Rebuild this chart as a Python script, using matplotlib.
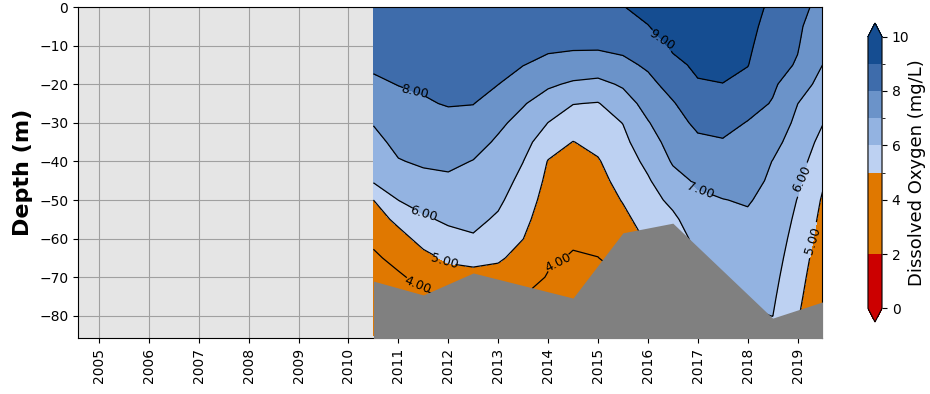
import matplotlib
matplotlib.use("Agg")
import matplotlib.pyplot as plt
import numpy as np
from matplotlib.colors import ListedColormap, BoundaryNorm

# Dissolved oxygen (mg/L) read off the section, one list per time step,
# values from the surface down in 5 m steps
years = [2010.5, 2011.0, 2011.5, 2012.0, 2012.5, 2013.0, 2013.5, 2014.0, 2014.5, 2015.0,
         2015.5, 2016.0, 2016.5, 2017.0, 2017.5, 2018.0, 2018.5, 2019.0, 2019.5]
depths = [0, -5, -10, -15, -20, -25, -30, -35, -40, -45, -50, -55, -60, -65, -70, -75, -80, -85]

do_by_year = [
    [8.60, 8.44, 8.27, 8.11, 7.87, 7.46, 7.05, 6.73, 6.42, 6.12, 5.00, 4.58, 4.16, 3.87, 3.65, 3.43, 3.22, 3.00],
    [8.50, 8.38, 8.26, 8.14, 8.02, 7.78, 7.51, 7.24, 6.95, 6.48, 6.01, 5.22, 4.68, 4.23, 3.89, 3.66, 3.43, 3.20],
    [8.50, 8.40, 8.29, 8.19, 8.08, 7.94, 7.67, 7.39, 7.12, 6.76, 6.33, 5.87, 5.30, 4.76, 4.24, 3.86, 3.58, 3.30],
    [8.50, 8.41, 8.31, 8.22, 8.13, 8.04, 7.81, 7.49, 7.18, 6.85, 6.50, 6.15, 5.70, 5.15, 4.63, 4.10, 3.73, 3.40],
    [8.50, 8.40, 8.31, 8.21, 8.12, 8.02, 7.71, 7.33, 6.97, 6.72, 6.47, 6.22, 5.91, 5.30, 4.67, 4.00, 3.70, 3.40],
    [8.60, 8.45, 8.30, 8.16, 8.01, 7.61, 7.18, 6.87, 6.63, 6.40, 6.16, 5.88, 5.51, 5.13, 4.65, 4.11, 3.73, 3.40],
    [8.70, 8.47, 8.25, 8.02, 7.56, 7.07, 6.70, 6.35, 6.01, 5.76, 5.51, 5.26, 5.01, 4.68, 4.34, 4.00, 3.70, 3.40],
    [8.80, 8.49, 8.18, 7.75, 7.14, 6.56, 5.99, 5.42, 4.96, 4.79, 4.62, 4.45, 4.29, 4.12, 3.95, 3.80, 3.65, 3.50],
    [8.80, 8.47, 8.14, 7.59, 6.87, 6.03, 5.48, 4.98, 4.80, 4.62, 4.44, 4.27, 4.09, 3.94, 3.83, 3.72, 3.61, 3.50],
    [8.85, 8.49, 8.14, 7.54, 6.75, 5.95, 5.59, 5.23, 4.93, 4.74, 4.55, 4.36, 4.17, 3.99, 3.86, 3.74, 3.62, 3.50],
    [8.98, 8.61, 8.24, 7.77, 7.12, 6.56, 6.02, 5.77, 5.53, 5.29, 5.05, 4.79, 4.53, 4.26, 4.00, 3.83, 3.67, 3.50],
    [9.20, 8.98, 8.56, 8.14, 7.74, 7.34, 6.94, 6.58, 6.22, 5.90, 5.63, 5.37, 5.11, 4.77, 4.38, 4.00, 3.80, 3.60],
    [9.50, 9.31, 9.12, 8.82, 8.35, 7.93, 7.65, 7.37, 7.09, 6.69, 6.23, 5.81, 5.44, 5.07, 4.83, 4.62, 4.41, 4.20],
    [9.60, 9.44, 9.29, 9.13, 8.94, 8.57, 8.19, 7.83, 7.48, 7.13, 6.84, 6.58, 6.31, 6.05, 5.79, 5.53, 5.26, 5.00],
    [9.60, 9.45, 9.30, 9.15, 8.99, 8.64, 8.28, 7.93, 7.61, 7.29, 6.98, 6.76, 6.53, 6.31, 6.09, 5.82, 5.51, 5.20],
    [9.40, 9.28, 9.16, 9.03, 8.72, 8.33, 7.96, 7.74, 7.52, 7.29, 7.07, 6.87, 6.68, 6.49, 6.30, 6.11, 5.89, 5.60],
    [8.80, 8.63, 8.47, 8.30, 8.14, 7.94, 7.61, 7.27, 6.98, 6.86, 6.73, 6.61, 6.49, 6.37, 6.25, 6.13, 6.01, 5.60],
    [8.20, 8.13, 8.06, 7.93, 7.47, 7.01, 6.79, 6.59, 6.38, 6.17, 5.97, 5.82, 5.67, 5.52, 5.37, 5.23, 5.08, 4.93],
    [7.80, 7.53, 7.27, 7.00, 6.68, 6.36, 6.04, 5.73, 5.43, 5.12, 4.91, 4.76, 4.61, 4.45, 4.30, 4.15, 4.00, 3.85],
]

# seafloor outline
floor_years = [2010.5, 2011.5, 2012.5, 2014.5, 2015.5, 2016.5, 2018.5, 2019.5]
floor_depths = [-71.0, -74.6, -68.9, -75.4, -58.5, -56.0, -80.6, -76.4]

fill_levels = [0, 2, 5, 6, 7, 8, 9, 10]
line_levels = [4, 5, 6, 7, 8, 9]
tick_years = list(range(2005, 2020))

colors = ['#cc0000', '#e07800', '#bdd1f2', '#93b3e1', '#6b93c9', '#3e6cab', '#154d91']
cmap = ListedColormap(colors)
cmap.set_under('#cc0000')
cmap.set_over('#154d91')
norm = BoundaryNorm(fill_levels, cmap.N)

Z = np.array(do_by_year).T

fig = plt.figure(figsize=(9.3, 3.94), dpi=100)
ax = fig.add_axes([0.0839, 0.1421, 0.80, 0.8401])
cax = fig.add_axes([0.9333, 0.1827, 0.0151, 0.7589])

ax.set_facecolor('#e5e5e5')
ax.grid(True, color='#a0a0a0', lw=0.8)
ax.set_axisbelow(True)

cf = ax.contourf(years, depths, Z, levels=fill_levels, cmap=cmap, norm=norm, extend='both')
cs = ax.contour(years, depths, Z, levels=line_levels, colors='k', linewidths=0.9)
label_pos = [(2011.3, -24), (2011.5, -54), (2011.9, -67), (2011.4, -71),
             (2014.2, -66), (2016.3, -8), (2017.05, -48), (2019.03, -44), (2019.25, -60)]
ax.clabel(cs, fmt='%.2f', fontsize=9, inline=True, manual=label_pos)

ax.fill_between(floor_years, floor_depths, -100, color='#808080', lw=0, zorder=4)

ax.set_xlim(2004.58, 2019.49)
ax.set_ylim(-85.75, 0)
ax.set_xticks(tick_years)
ax.set_xticklabels([str(y) for y in tick_years], rotation=90, fontsize=10)
ax.set_yticks(range(-80, 1, 10))
ax.tick_params(axis='y', labelsize=10)
ax.set_ylabel('Depth (m)', fontsize=16, fontweight='bold')

cb = fig.colorbar(cf, cax=cax, spacing='proportional', ticks=[0, 2, 4, 6, 8, 10])
cb.set_label('Dissolved Oxygen (mg/L)', fontsize=13)
cb.ax.yaxis.set_label_coords(2.86, 0.5)
cb.ax.tick_params(labelsize=10)

plt.savefig('out.png', dpi=100)
